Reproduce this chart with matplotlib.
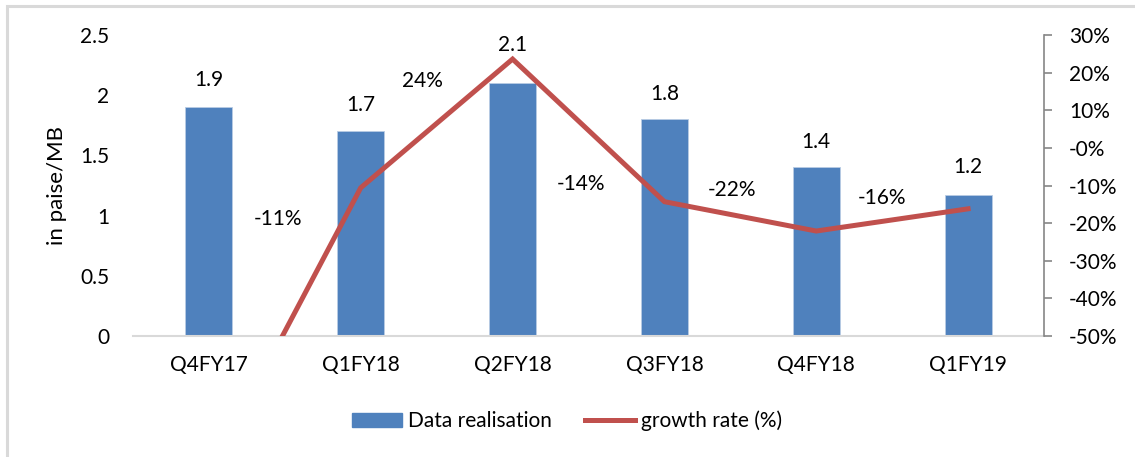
import numpy as np
import matplotlib
matplotlib.use("Agg")
import matplotlib.pyplot as plt
from matplotlib.patches import Rectangle
from matplotlib.ticker import PercentFormatter

quarters = ["Q4FY17", "Q1FY18", "Q2FY18", "Q3FY18", "Q4FY18", "Q1FY19"]
realisation = [1.9, 1.7, 2.1, 1.8, 1.4, 1.17]
growth = [-0.87, -0.106, 0.236, -0.143, -0.221, -0.162]

plt.rcParams['font.family'] = ['Lato', 'DejaVu Sans']
plt.rcParams['axes.unicode_minus'] = False
FS = 15
BLUE = '#4F81BD'
RED = '#C0504D'

fig = plt.figure(figsize=(11.35, 4.57), dpi=100)
W, H = 1135, 457
ax = fig.add_axes([133 / W, 121 / H, (1044 - 133) / W, (336 - 35) / H])
ax2 = ax.twinx()
ax.set_zorder(ax2.get_zorder() - 1)
ax.patch.set_visible(True)
ax2.patch.set_visible(False)

x = np.arange(len(quarters))
bars = ax.bar(x, realisation, width=0.31, color=BLUE, edgecolor='#b8cce4', linewidth=0.6)
ax.set_xlim(-0.5, len(quarters) - 0.5)
ax.set_ylim(0, 2.5)
ax.set_yticks([0, 0.5, 1, 1.5, 2, 2.5])
ax.set_yticklabels(['0', '0.5', '1', '1.5', '2', '2.5'])
ax.set_xticks(x)
ax.set_xticklabels(quarters)
ax.tick_params(axis='y', length=0, pad=17, labelsize=FS)
ax.tick_params(axis='x', length=0, pad=14, labelsize=FS)
for s in ['left', 'right', 'top']:
    ax.spines[s].set_visible(False)
ax.spines['bottom'].set_color('#d9d9d9')
ax.spines['bottom'].set_linewidth(1.5)
ax.set_ylabel('in paise/MB', fontsize=FS + 1)
ax.yaxis.set_label_coords((67 - 133) / (1044 - 133), 0.5)

# bar labels (offset above bar top, pixels)
bar_off = [27, 26, 38, 25, 25, 28]
for xi, v, off in zip(x, realisation, bar_off):
    ax.annotate(f"{v:.1f}", (xi, v), xytext=(0, off), textcoords='offset pixels',
                ha='center', va='center', fontsize=FS)

ax2.plot(x, growth, color=RED, linewidth=3.6, solid_joinstyle='miter')
ax2.set_ylim(-0.5, 0.3)
ax2.set_yticks(np.arange(-0.5, 0.31, 0.1))
ax2.yaxis.set_major_formatter(PercentFormatter(1.0, decimals=0))
ax2.tick_params(axis='y', direction='out', length=6, width=1.2, color='#868686',
                pad=12, labelsize=FS)
for s in ['left', 'top', 'bottom']:
    ax2.spines[s].set_visible(False)
ax2.spines['right'].set_color('#868686')
ax2.spines['right'].set_linewidth(1.2)

# growth labels (offset from point, pixels)
g_off = [None, (-83, -31), (-90, -22), (-83, 18), (-84, 41), (-86, 11)]
for xi, g, off in zip(x, growth, g_off):
    if off is None:
        continue
    ax2.annotate(f"{round(g * 100):.0f}%", (xi, g), xytext=off, textcoords='offset pixels',
                 ha='center', va='center', fontsize=FS)

handles = [Rectangle((0, 0), 1, 1, color=BLUE),
           plt.Line2D([], [], color=RED, linewidth=3.6)]
fig.legend(handles, ['Data realisation', 'growth rate (%)'], loc='center',
           bbox_to_anchor=(567 / W, 1 - 421 / H), ncol=2, frameon=False, fontsize=FS,
           handlelength=2.4, handleheight=0.7, handletextpad=0.3, columnspacing=1.6)

fig.add_artist(Rectangle((6.5 / W, -0.1), 1.2, 1 - 6.5 / H + 0.1, transform=fig.transFigure,
                         fill=False, edgecolor='#d9d9d9', linewidth=2.2))

plt.savefig("out.png", dpi=100)
plt.close()
